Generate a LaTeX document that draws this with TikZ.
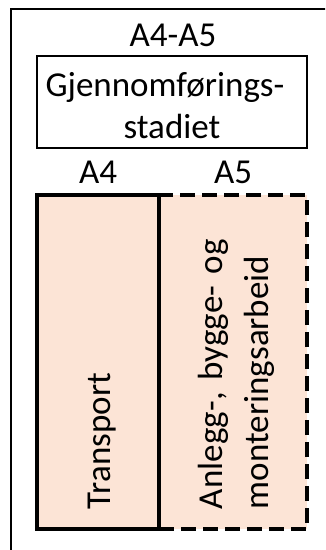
\documentclass[tikz,border=0pt]{standalone}
\usepackage{fontspec}
\setmainfont{Carlito}
\definecolor{peach}{HTML}{FCE4D6}
\begin{document}
\begin{tikzpicture}[x=1pt,y=-1pt,
  txt/.style={font=\fontsize{35pt}{42.7pt}\selectfont, inner sep=0pt, outer sep=0pt},
  thinbox/.style={draw, line width=2.5pt, inner sep=0pt, outer sep=0pt},
  phase/.style={draw, line width=4pt, fill=peach, inner sep=0pt, outer sep=0pt, minimum height=334pt},
  dashbox/.style={phase, dash pattern=on 15pt off 7pt},
  vtxt/.style={txt, rotate=90, anchor=base west}]
\useasboundingbox (0,0) rectangle (325,550);
\clip (0,0) rectangle (325,550);
\draw[line width=2.5pt] (11,9) rectangle (345,575);
\node[txt, anchor=base] (top) at (173,46) {A4-A5};
\node[thinbox, minimum width=270pt, minimum height=92pt] (gjbox) at (172,102) {};
\node[txt, anchor=base, text width=270pt, align=center] (gjtext) at (172,96) {Gjennomførings-\rule{14pt}{0pt}\\stadiet};
\node[txt, anchor=base] (a4) at (98,183) {A4};
\node[txt, anchor=base] (a5) at (233,183) {A5};
\node[dashbox, minimum width=148pt] (rbox) at (233,362) {};
\node[phase, minimum width=122pt] (lbox) at (98,362) {};
\node[vtxt] (transport) at (110,509) {Transport};
\node[vtxt, font=\fontsize{35pt}{47pt}\selectfont, text width=300pt, align=left] (anlegg) at (222,509) {Anlegg-, bygge- og\\monteringsarbeid};
\end{tikzpicture}
\end{document}
